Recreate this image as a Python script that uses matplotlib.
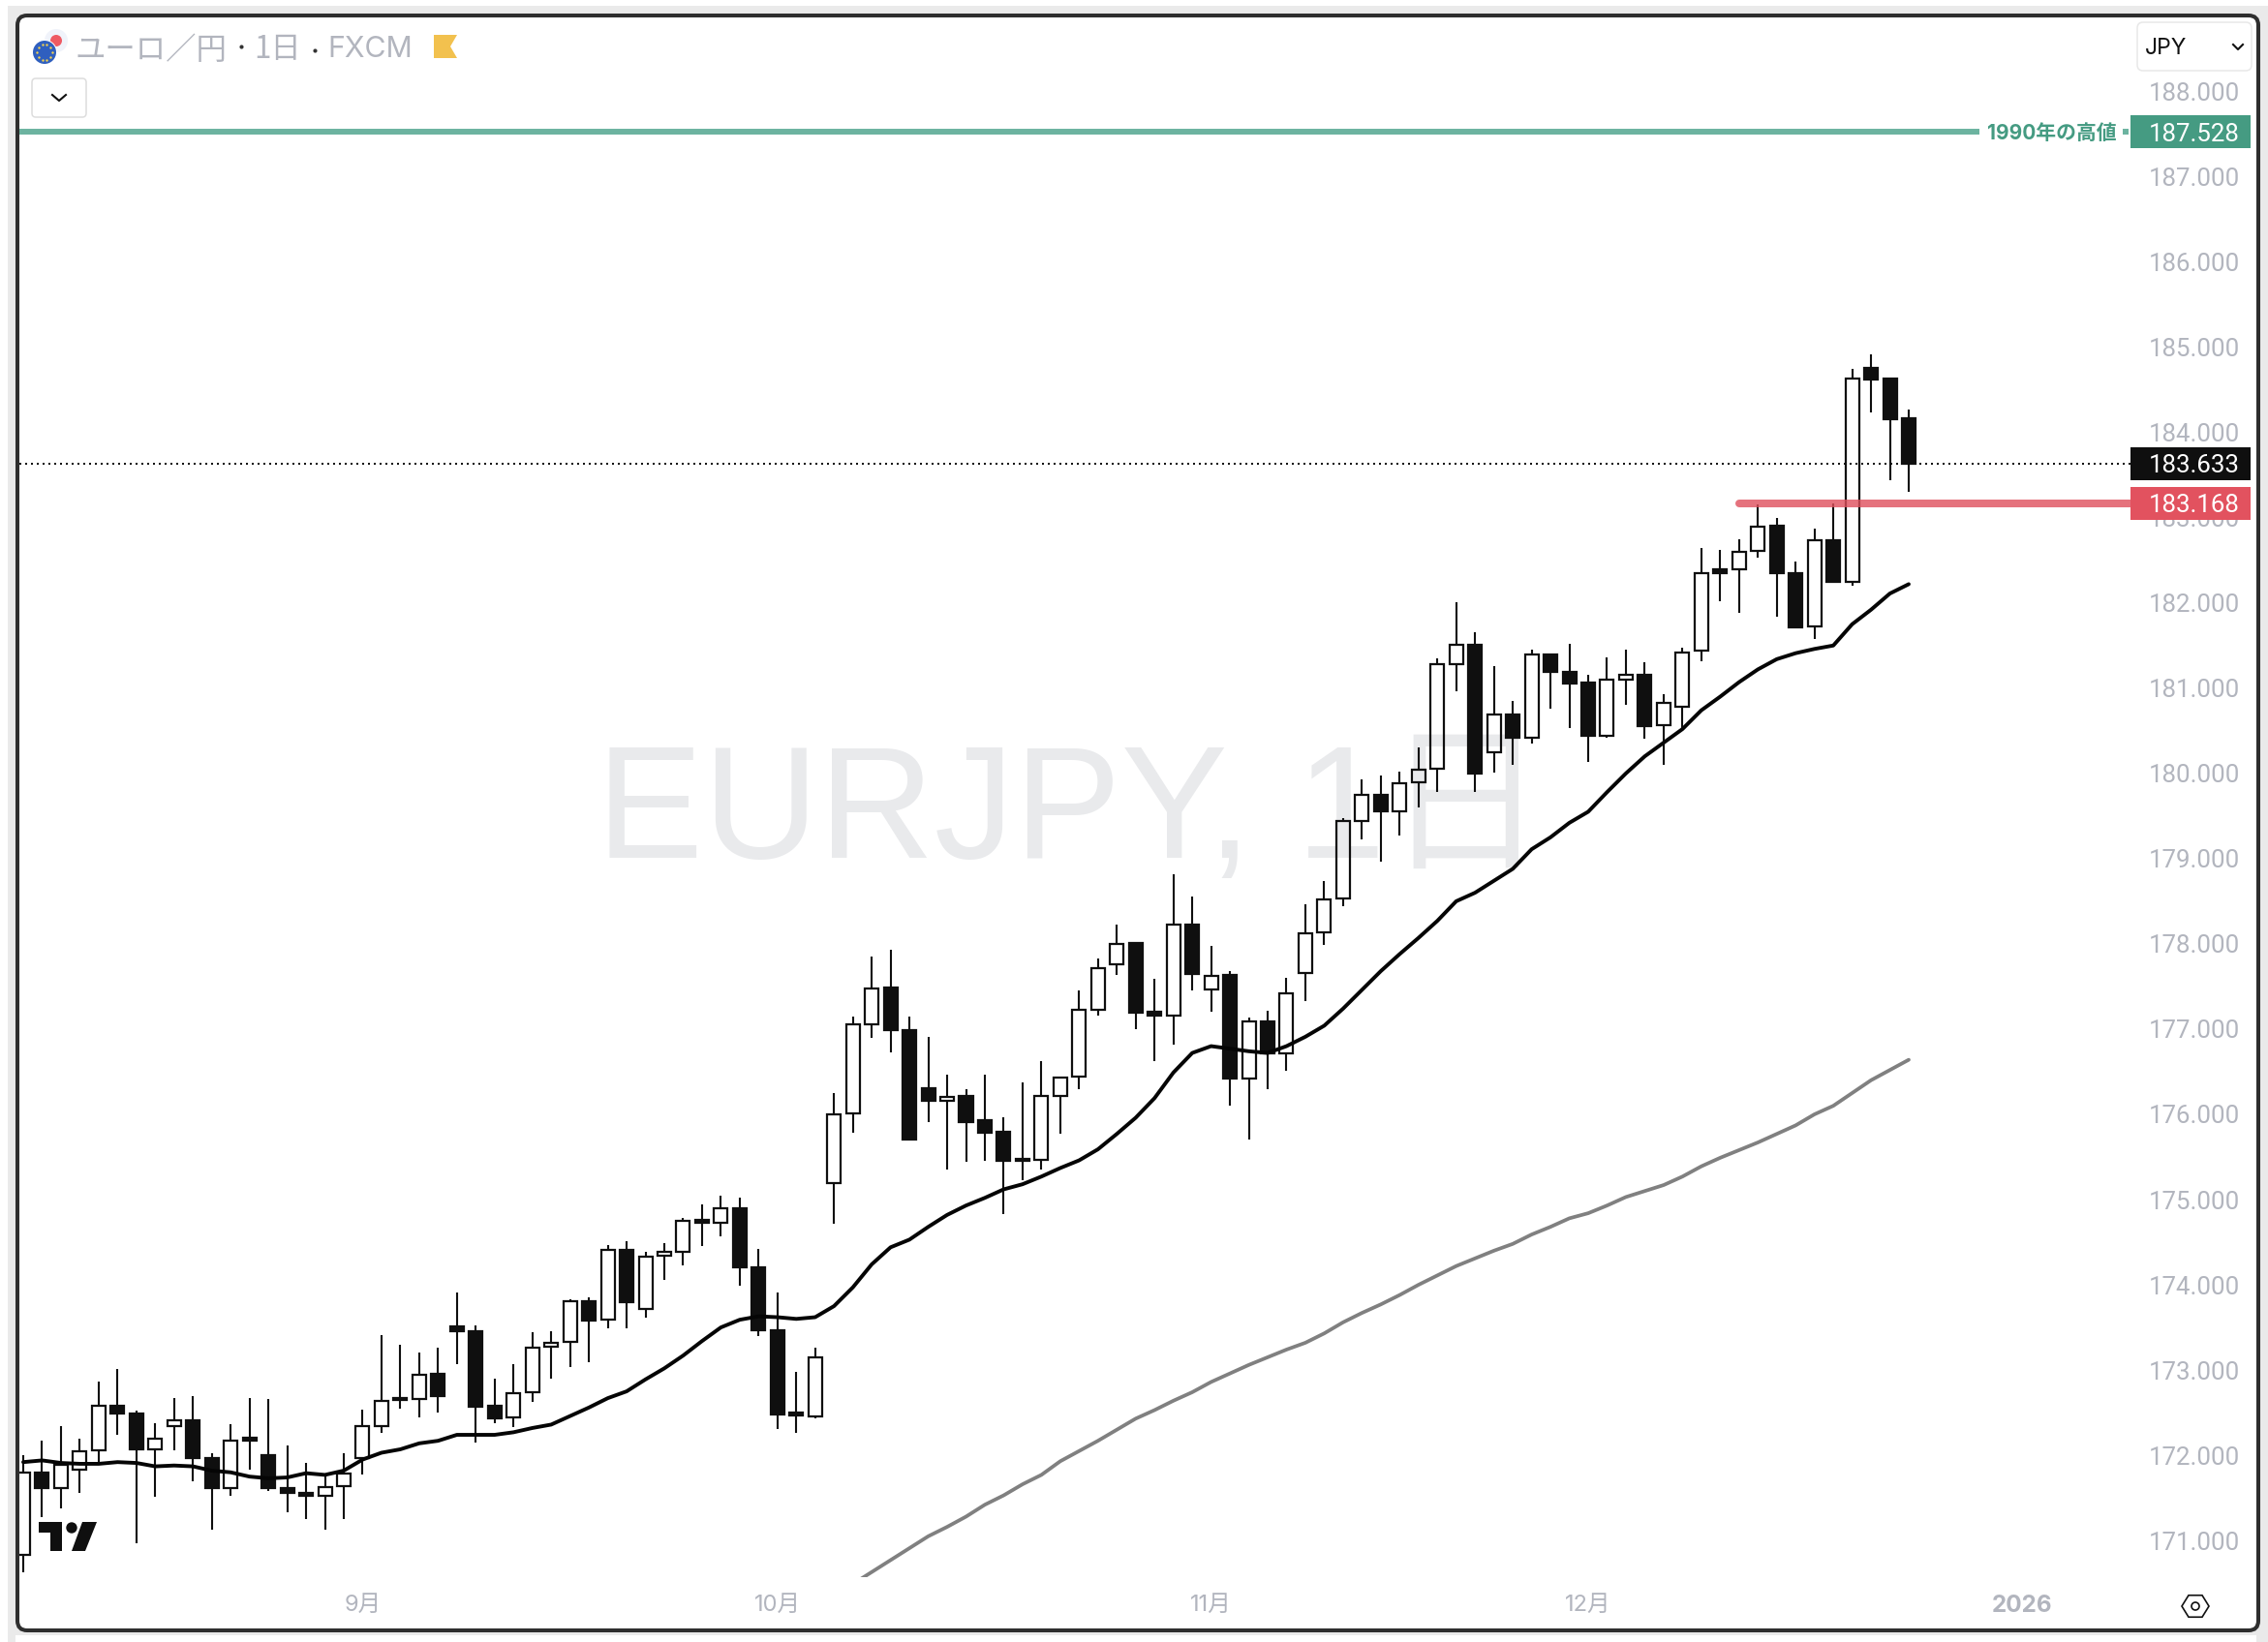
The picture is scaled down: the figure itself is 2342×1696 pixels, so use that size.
import numpy as np
import matplotlib
matplotlib.use('Agg')
import matplotlib.pyplot as plt
from matplotlib.patches import Rectangle, FancyBboxPatch, Circle, Polygon
from matplotlib.transforms import blended_transform_factory

plt.rcParams['font.family'] = ['Inter', 'Noto Sans CJK JP', 'DejaVu Sans']

# 日足データ
opens = [170.83, 171.80, 171.61, 171.83, 172.06, 172.58, 172.49, 172.07, 172.34, 172.41,
         171.97, 171.62, 172.21, 172.00, 171.62, 171.56, 171.53, 171.64, 171.97, 172.34,
         172.67, 172.66, 172.96, 173.51, 173.46, 172.58, 172.44, 172.74, 173.27, 173.33,
         173.81, 173.59, 174.41, 173.72, 174.34, 174.39, 174.76, 174.73, 174.90, 174.21,
         173.47, 172.50, 172.46, 175.19, 176.01, 177.06, 177.49, 176.99, 176.31, 176.16,
         176.21, 175.93, 175.79, 175.48, 175.47, 176.22, 176.44, 177.23, 177.76, 178.01,
         177.20, 177.16, 178.23, 177.47, 177.63, 176.42, 177.09, 176.72, 177.66, 178.13,
         178.53, 179.44, 179.75, 179.56, 179.90, 180.05, 181.28, 181.51, 180.25, 180.69,
         180.42, 181.40, 181.19, 181.06, 180.44, 181.10, 181.16, 180.57, 180.78, 181.44,
         182.39, 182.39, 182.61, 182.91, 182.35, 181.72, 182.74, 182.25, 184.76, 184.63,
         184.17]
highs = [172.00, 172.17, 172.34, 172.20, 172.86, 173.01, 172.52, 172.38, 172.67, 172.70,
         172.02, 172.36, 172.67, 172.66, 172.12, 171.91, 171.76, 172.02, 172.54, 173.41,
         173.30, 173.21, 173.26, 173.91, 173.52, 172.90, 173.07, 173.44, 173.45, 173.83,
         173.85, 174.47, 174.51, 174.39, 174.49, 174.79, 174.94, 175.05, 175.02, 174.42,
         173.91, 172.98, 173.26, 176.25, 177.15, 177.85, 177.93, 177.15, 176.91, 176.46,
         176.30, 176.46, 175.97, 176.37, 176.62, 176.43, 177.45, 177.83, 178.23, 178.01,
         177.59, 178.82, 178.56, 177.98, 177.68, 177.14, 177.22, 177.60, 178.46, 178.74,
         179.47, 179.93, 179.98, 180.02, 180.30, 181.35, 182.01, 181.66, 181.26, 180.85,
         181.45, 181.41, 181.52, 181.16, 181.36, 181.45, 181.30, 180.93, 181.48, 182.64,
         182.62, 182.75, 183.16, 183.00, 182.48, 182.87, 183.17, 184.75, 184.92, 184.63,
         184.27]
lows = [170.63, 171.27, 171.38, 171.56, 171.89, 172.24, 170.97, 171.51, 172.06, 171.69,
        171.13, 171.52, 171.83, 171.58, 171.33, 171.25, 171.13, 171.25, 171.77, 172.26,
        172.55, 172.45, 172.50, 173.07, 172.15, 172.38, 172.33, 172.63, 172.90, 173.03,
        173.09, 173.49, 173.49, 173.61, 174.06, 174.23, 174.45, 174.57, 173.99, 173.40,
        172.31, 172.26, 172.43, 174.72, 175.78, 176.90, 176.73, 175.69, 175.91, 175.35,
        175.44, 175.45, 174.83, 175.23, 175.35, 175.77, 176.30, 177.16, 177.63, 177.00,
        176.63, 176.82, 177.45, 177.20, 176.10, 175.71, 176.29, 176.51, 177.33, 177.99,
        178.44, 179.22, 178.97, 179.27, 179.60, 179.78, 180.96, 179.78, 180.01, 180.10,
        180.35, 180.76, 180.53, 180.13, 180.42, 180.80, 180.41, 180.10, 180.52, 181.32,
        182.02, 181.88, 182.53, 181.84, 181.70, 181.58, 182.25, 182.20, 184.24, 183.44,
        183.30]
closes = [171.80, 171.61, 171.89, 172.05, 172.58, 172.49, 172.07, 172.20, 172.41, 171.97,
          171.62, 172.17, 172.17, 171.62, 171.56, 171.52, 171.63, 171.79, 172.34, 172.64,
          172.65, 172.95, 172.69, 173.45, 172.57, 172.43, 172.73, 173.26, 173.32, 173.81,
          173.58, 174.41, 173.80, 174.33, 174.39, 174.75, 174.73, 174.90, 174.21, 173.47,
          172.48, 172.47, 173.15, 176.00, 177.06, 177.48, 176.99, 175.70, 176.16, 176.20,
          175.91, 175.78, 175.46, 175.46, 176.21, 176.43, 177.23, 177.71, 178.00, 177.19,
          177.16, 178.23, 177.65, 177.62, 176.42, 177.09, 176.72, 177.42, 178.12, 178.52,
          179.44, 179.75, 179.55, 179.89, 180.04, 181.28, 181.51, 180.00, 180.69, 180.42,
          181.39, 181.19, 181.05, 180.44, 181.10, 181.16, 180.56, 180.83, 181.42, 182.35,
          182.35, 182.60, 182.90, 182.35, 181.71, 182.73, 182.25, 184.63, 184.62, 184.16,
          183.63]

# 短期移動平均
ma_short = [171.92, 171.94, 171.91, 171.90, 171.90, 171.92, 171.91, 171.87, 171.88, 171.87,
            171.82, 171.80, 171.75, 171.73, 171.74, 171.79, 171.77, 171.82, 171.95, 172.03,
            172.07, 172.14, 172.17, 172.24, 172.24, 172.24, 172.27, 172.32, 172.36, 172.46,
            172.56, 172.67, 172.75, 172.89, 173.02, 173.17, 173.34, 173.50, 173.59, 173.63,
            173.62, 173.60, 173.62, 173.75, 173.97, 174.24, 174.44, 174.53, 174.68, 174.82,
            174.93, 175.02, 175.12, 175.18, 175.27, 175.37, 175.46, 175.59, 175.77, 175.96,
            176.19, 176.49, 176.72, 176.80, 176.77, 176.74, 176.72, 176.80, 176.91, 177.04,
            177.24, 177.46, 177.68, 177.88, 178.07, 178.27, 178.50, 178.60, 178.74, 178.88,
            179.11, 179.25, 179.42, 179.55, 179.78, 180.00, 180.20, 180.36, 180.52, 180.74,
            180.90, 181.07, 181.22, 181.34, 181.41, 181.46, 181.50, 181.75, 181.92, 182.11,
            182.22]

# 長期移動平均(44本目から)
ma_long_start = 44
ma_long = [170.49, 170.63, 170.77, 170.91, 171.05, 171.16, 171.28, 171.42, 171.53, 171.66,
           171.77, 171.93, 172.05, 172.17, 172.30, 172.43, 172.53, 172.64, 172.74, 172.86,
           172.96, 173.06, 173.15, 173.24, 173.32, 173.43, 173.56, 173.67, 173.77, 173.88,
           174.00, 174.11, 174.22, 174.31, 174.40, 174.48, 174.59, 174.68, 174.78, 174.84,
           174.93, 175.03, 175.10, 175.17, 175.27, 175.39, 175.49, 175.58, 175.67, 175.77,
           175.87, 176.00, 176.10, 176.25, 176.40, 176.52, 176.64]

price_ticks = [188, 187, 186, 185, 184, 183, 182, 181, 180, 179, 178, 177, 176, 175, 174, 173, 172, 171]
month_pos = [18, 40, 63, 83, 106]
month_labels = ['9月', '10月', '11月', '12月', '2026']

high_1990 = 187.528
last_price = 183.633
red_level = 183.168

W, H = 2342, 1696
GREY = '#B2B5BE'
INK = '#0F0F0F'
TEAL = '#459B82'

# ピクセル → データの対応
STEP = 19.47
X0 = 24
PX_PER_YEN = 88.04
Y188 = 94.5
L, R, T, B = 20, 2330, 18, 1629
PANE_R = 2200


def to_i(px):
    return (px - X0) / STEP


fig = plt.figure(figsize=(W / 100, H / 100), dpi=100, facecolor='white')

# 外枠
bg = fig.add_axes([0, 0, 1, 1], zorder=0)
bg.set_xlim(0, W)
bg.set_ylim(H, 0)
bg.axis('off')
bg.add_patch(Rectangle((8, 6), W - 8, H - 6, fc='#EAEAEA', ec='none'))
bg.add_patch(Rectangle((16, 1689), W - 28, 8, fc='white', ec='none'))
bg.add_patch(FancyBboxPatch((26, 24), 2298, 1652, boxstyle='round,pad=8,rounding_size=10',
                            fc='white', ec='#2E2E2E', lw=2.9))

ax = fig.add_axes([L / W, (H - B) / H, (R - L) / W, (B - T) / H], zorder=1)
ax.patch.set_alpha(0)
ax.set_xlim(to_i(L), to_i(R))
ax.set_ylim(188 - (B - Y188) / PX_PER_YEN, 188 + (Y188 - T) / PX_PER_YEN)
for s in ax.spines.values():
    s.set_visible(False)

# 透かし
ax.text(to_i(616), 179.5, 'EURJPY, 1日', fontsize=119, color='#E9EAEC', va='center', ha='left',
        family=['Liberation Sans', 'Noto Sans CJK JP'], zorder=0.5)

# ローソク足
idx = np.arange(len(opens))
o = np.array(opens)
h = np.array(highs)
l = np.array(lows)
c = np.array(closes)
up = c > o
top = np.maximum(o, c)
bot = np.minimum(o, c)
ax.vlines(idx, top, h, color=INK, lw=1.5, zorder=2)
ax.vlines(idx, l, bot, color=INK, lw=1.5, zorder=2)
ax.bar(idx[up], (top - bot)[up], bottom=bot[up], width=0.72, facecolor='none', edgecolor=INK, lw=1.6, zorder=2)
ax.bar(idx[~up], (top - bot)[~up], bottom=bot[~up], width=0.72, facecolor=INK, edgecolor=INK, lw=1.6, zorder=2)

# 移動平均
ax.plot(idx, ma_short, color='#050505', lw=2.8, zorder=3, solid_capstyle='round')
ax.plot(np.arange(ma_long_start, ma_long_start + len(ma_long)), ma_long, color='#808080', lw=2.7, zorder=3,
        solid_capstyle='round')

# 水平線
ax.plot([to_i(L), to_i(2044)], [high_1990, high_1990], color='#6CB3A0', lw=4.3, solid_capstyle='butt', zorder=3)
ax.plot([to_i(2192), to_i(2198)], [high_1990, high_1990], color='#6CB3A0', lw=4.3, solid_capstyle='butt', zorder=3)
ax.plot([to_i(L), to_i(PANE_R)], [last_price, last_price], color=INK, lw=1.44, ls=(0, (1, 2)), zorder=2.5)
ax.plot([to_i(1796), to_i(PANE_R)], [red_level, red_level], color='#DF4F5C', alpha=0.8, lw=5.76,
        solid_capstyle='round', zorder=4)
ax.text(to_i(2052), high_1990, '1990年の高値', color=TEAL, fontsize=15, fontweight='bold',
        va='center_baseline', ha='left', zorder=4)

# 軸
ax.set_yticks(price_ticks)
ax.set_yticklabels(['%.3f' % p for p in price_ticks], family='Roboto')
ax.yaxis.tick_right()
ax.tick_params(axis='y', length=0, pad=-12.2, labelsize=18.6, labelcolor=GREY)
for t in ax.get_yticklabels():
    t.set_ha('right')
ax.set_xticks(month_pos)
ax.set_xticklabels(month_labels)
ax.tick_params(axis='x', length=0, pad=13, labelsize=17, labelcolor=GREY)
ax.get_xticklabels()[-1].set_fontweight('bold')
ax.get_xticklabels()[-1].set_fontsize(17.5)

# 上に載せる部品
ov = fig.add_axes([0, 0, 1, 1], zorder=2)
ov.patch.set_alpha(0)
ov.set_xlim(0, W)
ov.set_ylim(H, 0)
ov.axis('off')

# 価格ラベル
tr = blended_transform_factory(ov.transData, ax.transData)
for price, col in [(high_1990, TEAL), (last_price, INK), (red_level, '#E2525F')]:
    ov.add_patch(Rectangle((PANE_R, price - 17 / PX_PER_YEN), 124, 34 / PX_PER_YEN, fc=col, ec='none', transform=tr))
    ov.text(2313, price, '%.3f' % price, color='white', fontsize=18.6, family='Roboto', ha='right',
            va='center_baseline', transform=tr)

# タイトル
ov.add_patch(Circle((58, 42), 12, fc='#F0F3FA', ec='none'))
ov.add_patch(Circle((58, 42), 6, fc='#EE5A63', ec='none'))
ov.add_patch(Circle((46, 54), 13, fc='white', ec='none'))
ov.add_patch(Circle((46, 54), 12, fc='#2F5FBF', ec='none'))
a = np.arange(10) * 2 * np.pi / 10
ov.scatter(46 + 8 * np.cos(a), 54 + 8 * np.sin(a), s=3, color='#F2D24E', lw=0)
title_font = dict(color=GREY, fontsize=22.6, va='center_baseline', ha='left',
                  family=['Noto Sans CJK JP', 'DejaVu Sans'])
ov.text(78, 48, 'ユーロ／円', **title_font)
ov.text(262, 48, '1日', **title_font)
ov.text(338, 48, 'FXCM', **{**title_font, 'family': ['Inter'], 'fontsize': 21.8})
ov.scatter([249, 325], [48, 52], s=9, color='#333333', lw=0)
ov.add_patch(Polygon([(448, 36), (472, 36), (465, 48), (472, 60), (448, 60)], fc='#F2C14E', ec='none'))

# ボタン類
ov.add_patch(FancyBboxPatch((36, 84), 50, 34, boxstyle='round,pad=3,rounding_size=4', fc='white', ec='#DDDDDD', lw=1.1))
ov.plot([54, 61, 68], [98, 104, 98], color='#111111', lw=1.5)
ov.add_patch(FancyBboxPatch((2211, 27), 110, 42, boxstyle='round,pad=4,rounding_size=6', fc='white', ec='#E8E8E8', lw=1.1))
ov.text(2215, 48, 'JPY', color='#111111', fontsize=16.5, ha='left', va='center_baseline')
ov.plot([2306, 2311, 2316], [46, 51, 46], color='#111111', lw=1.5)

# 右下の六角形
ang = np.arange(6) * np.pi / 3
ov.add_patch(Polygon(np.c_[2267 + 14 * np.cos(ang), 1659 + 13 * np.sin(ang)], fc='white', ec='#111111', lw=1.2))
ov.add_patch(Circle((2267, 1659), 4, fc='white', ec='#111111', lw=1.2))

# ロゴ
ov.add_patch(Polygon([(40, 1572), (64, 1572), (64, 1602), (52, 1602), (52, 1583), (40, 1583)], fc=INK, ec='none'))
ov.add_patch(Circle((74, 1578), 5.7, fc=INK, ec='none'))
ov.add_patch(Polygon([(85, 1572), (100, 1572), (88, 1602), (74, 1602)], fc=INK, ec='none'))

fig.savefig('out.png', dpi=100)
